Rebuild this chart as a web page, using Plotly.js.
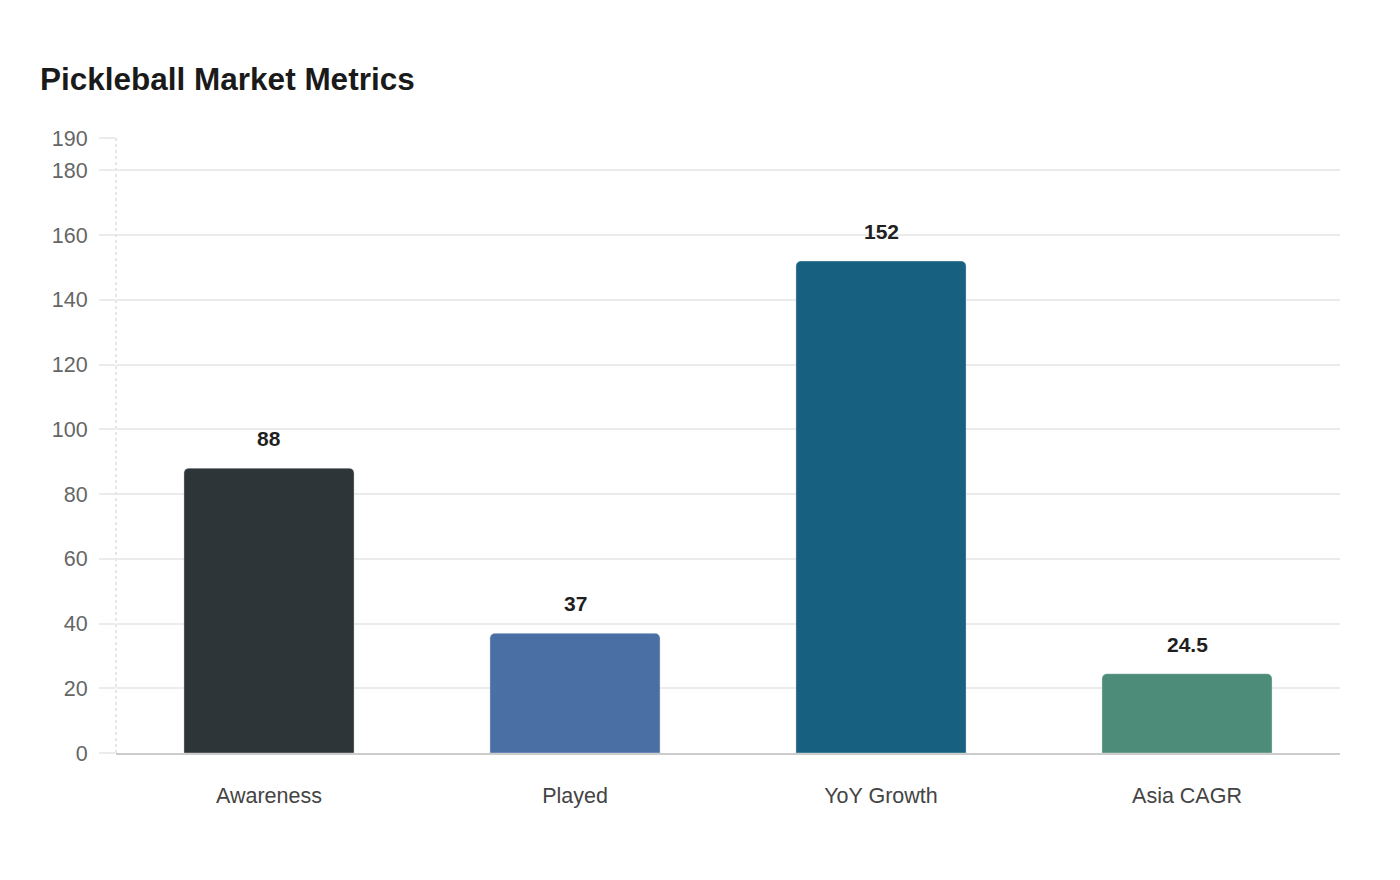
<!DOCTYPE html>
<html>
<head>
<meta charset="utf-8">
<script src="https://cdn.plot.ly/plotly-3.0.1.min.js"></script>
<style>
  html, body { margin: 0; padding: 0; background: #fff; }
  #chart { width: 1400px; height: 880px; }
</style>
</head>
<body>
<div id="chart"></div>
<script>
const categories = ["Awareness", "Played", "YoY Growth", "Asia CAGR"];
const values = [88, 37, 152, 24.5];
const labels = ["88", "37", "152", "24.5"];
const barColors = ["#2d3538", "#4a6fa5", "#17607f", "#4e8c7a"];
const yTicks = [0, 20, 40, 60, 80, 100, 120, 140, 160, 180, 190];

const font = "Liberation Sans, Arial, sans-serif";

const trace = {
    type: "bar",
    x: categories,
    y: values,
    marker: {
        color: barColors,
        cornerradius: 5,
        line: { color: "rgba(255,255,255,0.35)", width: 1 },
    },
    hoverinfo: "x+y",
};

const annotations = categories.map((c, i) => ({
    x: c,
    y: values[i],
    xref: "x",
    yref: "y",
    text: "<b>" + labels[i] + "</b>",
    showarrow: false,
    yanchor: "bottom",
    yshift: 16,
    font: { family: font, size: 21, color: "#1f1f1f" },
}));

const layout = {
    width: 1400,
    height: 880,
    paper_bgcolor: "#ffffff",
    plot_bgcolor: "#ffffff",
    margin: { l: 116, r: 60, t: 138, b: 127 },
    title: {
        text: "<b>Pickleball Market Metrics</b>",
        x: 40 / 1400,
        xanchor: "left",
        y: 1 - 79 / 880,
        yanchor: "middle",
        font: { family: font, size: 31.5, color: "#1a1a1a" },
    },
    bargap: 0.444,
    showlegend: false,
    xaxis: {
        tickfont: { family: font, size: 21.5, color: "#444444" },
        showgrid: false,
        showline: true,
        linecolor: "#cccccc",
        linewidth: 2,
        ticks: "",
        ticklabelstandoff: 22,
    },
    yaxis: {
        range: [0, 190],
        tickvals: yTicks,
        ticktext: yTicks.map(String),
        tickfont: { family: font, size: 21.5, color: "#666666" },
        gridcolor: "#ebebeb",
        gridwidth: 2,
        ticks: "outside",
        ticklen: 16,
        tickwidth: 2,
        tickcolor: "#ebebeb",
        ticklabelstandoff: 7,
        zeroline: false,
        showline: false,
    },
    shapes: [{
        type: "line",
        xref: "paper",
        yref: "paper",
        x0: 0, x1: 0, y0: 0, y1: 1,
        line: { color: "#cccccc", width: 1, dash: "dot" },
        layer: "below",
    }],
    annotations: annotations,
};

Plotly.newPlot("chart", [trace], layout, { displayModeBar: false, responsive: false });
</script>
</body>
</html>
